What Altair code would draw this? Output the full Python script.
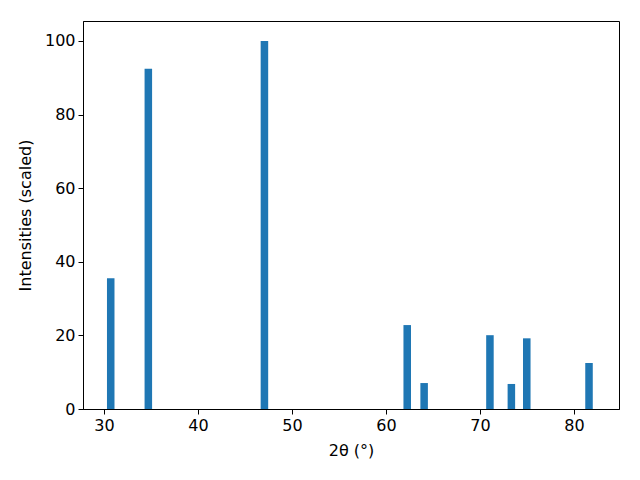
import altair as alt
import pandas as pd

two_theta = [30.72, 34.72, 47.07, 62.26, 64.06, 71.06, 73.34, 74.98, 81.6]
intensity = [35.5, 92.4, 100.0, 22.8, 7.05, 20.05, 6.8, 19.2, 12.5]
bar_width = 0.8

df = pd.DataFrame({"x": two_theta, "y": intensity})
df["x0"] = df["x"] - bar_width / 2
df["x1"] = df["x"] + bar_width / 2

font = "DejaVu Sans"
fs = 16

chart = alt.Chart(df).mark_rect(color="#1f77b4").encode(
    x=alt.X("x0:Q", scale=alt.Scale(domain=[27.77, 84.79], nice=False, zero=False),
            axis=alt.Axis(values=[30, 40, 50, 60, 70, 80], title="2θ (°)", grid=False,
                          labelFontSize=fs, titleFontSize=fs, tickSize=5,
                          labelPadding=3, titlePadding=9, format="d")),
    x2="x1:Q",
    y=alt.Y("y:Q", scale=alt.Scale(domain=[0, 105.4], nice=False),
            axis=alt.Axis(values=[0, 20, 40, 60, 80, 100], title="Intensities (scaled)", grid=False,
                          labelFontSize=fs, titleFontSize=fs, tickSize=5,
                          labelPadding=3, titlePadding=11)),
    y2=alt.datum(0),
).properties(
    width=536, height=388,
    autosize=alt.AutoSizeParams(type="none"),
    padding={"left": 75, "top": 13, "right": 13, "bottom": 63},
).configure_axis(
    domainColor="black", tickColor="black", labelColor="black", titleColor="black",
    labelFont=font, titleFont=font, titleFontWeight="normal", domainWidth=1, tickWidth=1,
).configure_view(stroke="black", strokeWidth=1)

chart.save("out.html", embed_options={"renderer": "svg", "actions": False})
